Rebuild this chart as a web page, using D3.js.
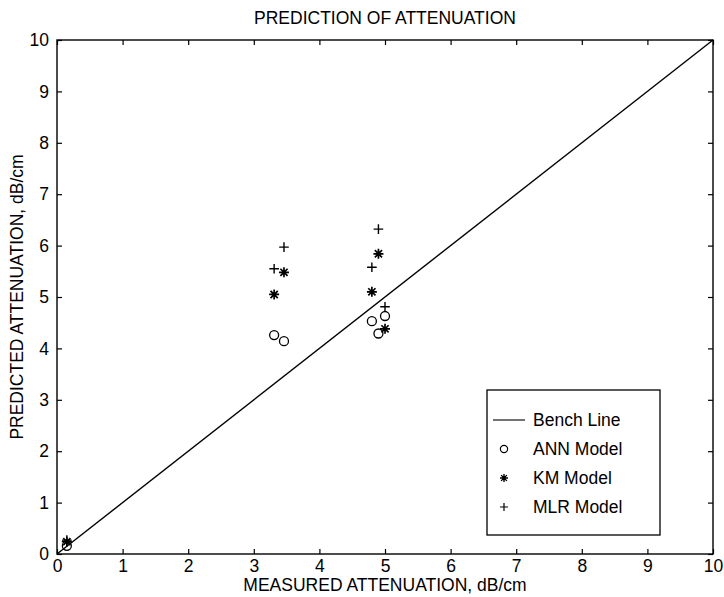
<!DOCTYPE html>
<html>
<head>
<meta charset="utf-8">
<script src="https://cdn.jsdelivr.net/npm/d3@7"></script>
<style>
body { margin: 0; background: #fff; }
text { font-family: "Liberation Sans", Arial, sans-serif; fill: #000; }
</style>
</head>
<body>
<svg width="724" height="597"></svg>
<script>

// measured attenuation (dB/cm), shared by all models
var measured = [0.15, 3.31, 3.46, 4.80, 4.90, 5.00];

// predicted attenuation per model
var annModel = [0.16, 4.26, 4.14, 4.53, 4.29, 4.63];
var kmModel  = [0.24, 5.05, 5.48, 5.10, 5.84, 4.38];
var mlrModel = [0.27, 5.55, 5.97, 5.58, 6.32, 4.81];

var benchLine = [0, 10];
var ticks = [0, 1, 2, 3, 4, 5, 6, 7, 8, 9, 10];

var legendLabels = ["Bench Line", "ANN Model", "KM Model", "MLR Model"];

var margin = {top: 40, right: 11, bottom: 43, left: 57};

var svg = d3.select("svg");
var width = +svg.attr("width") - margin.left - margin.right;
var height = +svg.attr("height") - margin.top - margin.bottom;

var g = svg.append("g")
	.attr("transform", "translate(" + margin.left + "," + margin.top + ")");

var x = d3.scaleLinear().domain([0, 10]).range([0, width]);
var y = d3.scaleLinear().domain([0, 10]).range([height, 0]);

var fs = "17.5px";

// axes, ticks pointing inward on all four sides
g.append("g")
	.attr("transform", "translate(0," + height + ")")
	.call(d3.axisBottom(x).tickValues(ticks).tickSizeInner(-5).tickSizeOuter(0).tickPadding(6));
g.append("g")
	.call(d3.axisTop(x).tickValues(ticks).tickSizeInner(-5).tickSizeOuter(0).tickFormat(""));
g.append("g")
	.call(d3.axisLeft(y).tickValues(ticks).tickSizeInner(-5).tickSizeOuter(0).tickPadding(8));
g.append("g")
	.attr("transform", "translate(" + width + ",0)")
	.call(d3.axisRight(y).tickValues(ticks).tickSizeInner(-5).tickSizeOuter(0).tickFormat(""));

g.selectAll(".domain").remove();
g.selectAll(".tick line").attr("stroke", "#000").attr("stroke-width", 1.2);
g.selectAll(".tick text").style("font-size", fs).attr("font-family", null);

g.append("rect")
	.attr("width", width)
	.attr("height", height)
	.attr("fill", "none")
	.attr("stroke", "#000")
	.attr("stroke-width", 1.4);

// bench line
var line = d3.line()
	.x(function(d) { return x(d); })
	.y(function(d) { return y(d); });

g.append("path")
	.datum(benchLine)
	.attr("d", line)
	.attr("fill", "none")
	.attr("stroke", "#000")
	.attr("stroke-width", 1.4);

function plusPath(s) {
	return "M" + (-s) + ",0H" + s + "M0," + (-s) + "V" + s;
}
function starPath(s) {
	var d = s * 0.72;
	return plusPath(s) + "M" + (-d) + "," + (-d) + "L" + d + "," + d + "M" + (-d) + "," + d + "L" + d + "," + (-d);
}

// ANN circles
g.selectAll(".ann")
	.data(annModel)
	.enter().append("circle")
	.attr("cx", function(d, i) { return x(measured[i]); })
	.attr("cy", function(d) { return y(d); })
	.attr("r", 4.5)
	.attr("fill", "none")
	.attr("stroke", "#000")
	.attr("stroke-width", 1.3);

// KM stars
g.selectAll(".km")
	.data(kmModel)
	.enter().append("path")
	.attr("transform", function(d, i) { return "translate(" + x(measured[i]) + "," + y(d) + ")"; })
	.attr("d", starPath(5))
	.attr("fill", "none")
	.attr("stroke", "#000")
	.attr("stroke-width", 1.7);

// MLR pluses
g.selectAll(".mlr")
	.data(mlrModel)
	.enter().append("path")
	.attr("transform", function(d, i) { return "translate(" + x(measured[i]) + "," + y(d) + ")"; })
	.attr("d", plusPath(4.8))
	.attr("fill", "none")
	.attr("stroke", "#000")
	.attr("stroke-width", 1.4);

// legend
var lg = svg.append("g").attr("transform", "translate(487,390)");
lg.append("rect")
	.attr("width", 173)
	.attr("height", 145)
	.attr("fill", "#fff")
	.attr("stroke", "#000")
	.attr("stroke-width", 1.3);

var items = lg.selectAll(".item")
	.data(legendLabels)
	.enter().append("g")
	.attr("transform", function(d, i) { return "translate(0," + (30 + i * 29) + ")"; });

items.append("text")
	.attr("x", 46)
	.attr("dy", "0.35em")
	.style("font-size", fs)
	.text(function(d) { return d; });

items.each(function(d, i) {
	var it = d3.select(this);
	if (i == 0) {
		it.append("line").attr("x1", 6).attr("x2", 38)
			.attr("stroke", "#000").attr("stroke-width", 1.1);
	} else if (i == 1) {
		it.append("circle").attr("cx", 17).attr("r", 3.6)
			.attr("fill", "none").attr("stroke", "#000").attr("stroke-width", 1.2);
	} else if (i == 2) {
		it.append("path").attr("transform", "translate(17,0)").attr("d", starPath(4))
			.attr("fill", "none").attr("stroke", "#000").attr("stroke-width", 1.4);
	} else {
		it.append("path").attr("transform", "translate(17,0)").attr("d", plusPath(4))
			.attr("fill", "none").attr("stroke", "#000").attr("stroke-width", 1.2);
	}
});

// titles
svg.append("text")
	.attr("x", margin.left + width / 2)
	.attr("y", 24)
	.attr("text-anchor", "middle")
	.style("font-size", "17.5px")
	.text("PREDICTION OF ATTENUATION");

svg.append("text")
	.attr("x", margin.left + width / 2)
	.attr("y", 591)
	.attr("text-anchor", "middle")
	.style("font-size", fs)
	.text("MEASURED ATTENUATION, dB/cm");

svg.append("text")
	.attr("transform", "translate(23," + (margin.top + height / 2) + ") rotate(-90)")
	.attr("text-anchor", "middle")
	.style("font-size", fs)
	.text("PREDICTED ATTENUATION, dB/cm");

</script>
</body>
</html>
